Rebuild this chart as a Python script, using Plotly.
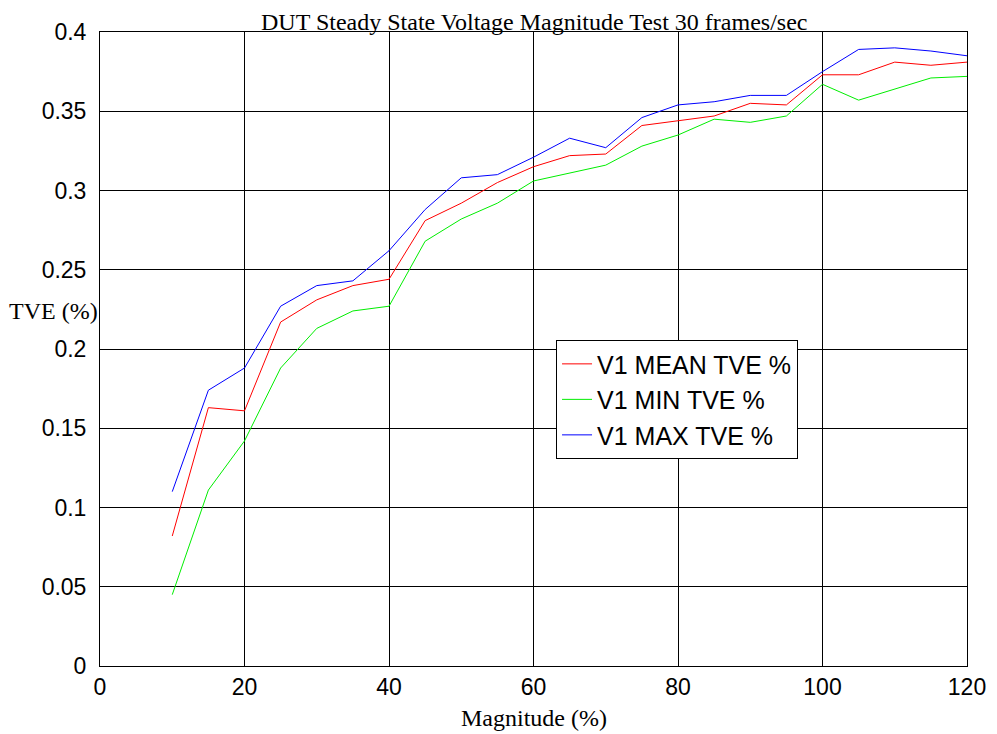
import plotly.graph_objects as go

magnitude = [10, 15, 20, 25, 30, 35, 40, 45, 50, 55, 60, 65, 70, 75, 80, 85, 90, 95, 100, 105, 110, 115, 120]
mean_tve = [0.082, 0.163, 0.161, 0.217, 0.231, 0.240, 0.244, 0.281, 0.292, 0.305, 0.315, 0.322, 0.323, 0.341, 0.344, 0.347, 0.355, 0.354, 0.373, 0.373, 0.381, 0.379, 0.381]
min_tve = [0.045, 0.111, 0.142, 0.188, 0.213, 0.224, 0.227, 0.268, 0.282, 0.292, 0.306, 0.311, 0.316, 0.328, 0.335, 0.345, 0.343, 0.347, 0.367, 0.357, 0.364, 0.371, 0.372]
max_tve = [0.110, 0.174, 0.188, 0.227, 0.240, 0.243, 0.262, 0.288, 0.308, 0.310, 0.321, 0.333, 0.327, 0.346, 0.354, 0.356, 0.360, 0.360, 0.375, 0.389, 0.390, 0.388, 0.385]

x_ticks = [0, 20, 40, 60, 80, 100, 120]
y_ticks = [0, 0.05, 0.1, 0.15, 0.2, 0.25, 0.3, 0.35, 0.4]
y_tick_labels = ["0", "0.05", "0.1", "0.15", "0.2", "0.25", "0.3", "0.35", "0.4"]

fig = go.Figure()
fig.add_trace(go.Scatter(x=magnitude, y=mean_tve, mode="lines", name="V1 MEAN TVE %",
                         line=dict(color="#ff0000", width=1)))
fig.add_trace(go.Scatter(x=magnitude, y=min_tve, mode="lines", name="V1 MIN TVE %",
                         line=dict(color="#00ee00", width=1)))
fig.add_trace(go.Scatter(x=magnitude, y=max_tve, mode="lines", name="V1 MAX TVE %",
                         line=dict(color="#0000ff", width=1)))

axis_common = dict(
    showline=True, linecolor="black", linewidth=1, mirror="ticks",
    ticks="inside", ticklen=7, tickcolor="black",
    showgrid=True, gridcolor="black", gridwidth=1,
    zeroline=False,
    tickfont=dict(family="Liberation Sans, Arial", size=23, color="black"),
)

fig.update_xaxes(range=[0, 120], tickvals=x_ticks, **axis_common)
fig.update_yaxes(range=[0, 0.4], tickvals=y_ticks, ticktext=y_tick_labels,
                 ticklabelstandoff=8, **axis_common)

fig.update_layout(
    width=997, height=734,
    margin=dict(l=100, r=30, t=32, b=68),
    paper_bgcolor="white", plot_bgcolor="white",
    showlegend=True,
    legend=dict(
        x=0.526, y=0.514, xanchor="left", yanchor="top",
        bgcolor="white", bordercolor="black", borderwidth=1,
        font=dict(family="Liberation Sans, Arial", size=25, color="black"),
        tracegroupgap=0,
    ),
    annotations=[
        dict(text="DUT Steady State Voltage Magnitude Test 30 frames/sec",
             xref="paper", yref="paper", x=0.5, y=1.0, xanchor="center", yanchor="bottom",
             showarrow=False, yshift=-5,
             font=dict(family="Liberation Serif, Times New Roman", size=24, color="black")),
        dict(text="Magnitude (%)",
             xref="paper", yref="paper", x=0.5, y=0, xanchor="center", yanchor="top",
             showarrow=False, yshift=-37,
             font=dict(family="Liberation Serif, Times New Roman", size=24, color="black")),
        dict(text="TVE (%)",
             xref="paper", yref="paper", x=0, y=0.56, xanchor="right", yanchor="middle",
             showarrow=False, xshift=0,
             font=dict(family="Liberation Serif, Times New Roman", size=24, color="black")),
    ],
)

fig.write_html("out.html")
